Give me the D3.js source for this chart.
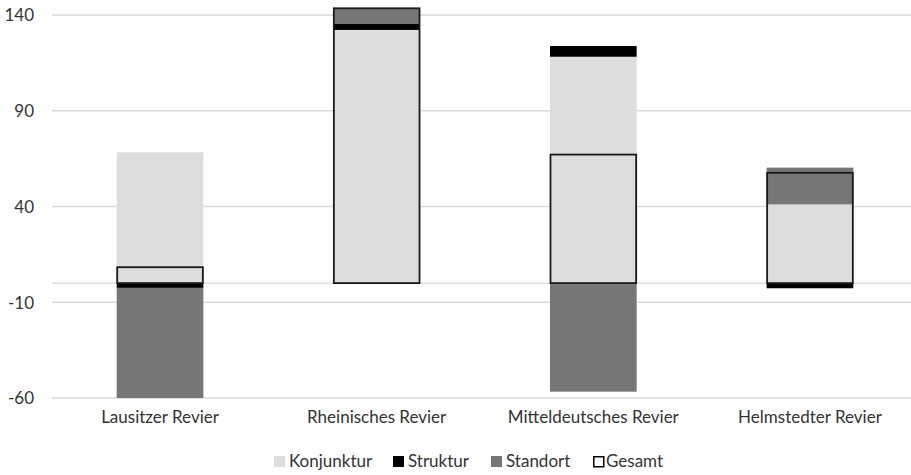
<!DOCTYPE html>
<html><head><meta charset="utf-8">
<script src="https://cdn.jsdelivr.net/npm/d3@7"></script>
<style>body{margin:0;background:#fff}svg{display:block}</style>
</head><body><svg id="c" width="911" height="475"></svg>
<script>
const categories = ["Lausitzer Revier","Rheinisches Revier","Mitteldeutsches Revier","Helmstedter Revier"];
const konjunktur = [68.3, 132.2, 118.2, 41.1];
const struktur   = [-2.5, 3.1, 5.6, -2.7];
const standort   = [-57.5, 8.2, -56.7, 19.2];
const gesamt     = [8.3, 143.5, 67.1, 57.6];
const yTicks = [140, 90, 40, -10, -60];
const seriesNames = ["Konjunktur","Struktur","Standort","Gesamt"];
const colors = {Konjunktur:"#dedddb", Struktur:"#000000", Standort:"#767676"};

const svg = d3.select("#c");
const font = "Lato, 'Open Sans', sans-serif";
const fs = 17;
const txt = "#333333";
const x = d3.scaleBand().domain(categories).range([51.7, 918.3]).paddingInner(0.6).paddingOuter(0.3);
const y = d3.scaleLinear().domain([-60, 140]).range([398, 15]);

// grid
svg.append("g").selectAll("line").data(yTicks).join("line")
  .attr("x1", 52).attr("x2", 911).attr("y1", d=>y(d)).attr("y2", d=>y(d))
  .attr("stroke", "#d9d9d9").attr("stroke-width", 1.3);
svg.append("line").attr("x1",52).attr("x2",911).attr("y1",y(0)).attr("y2",y(0))
  .attr("stroke","#d9d9d9").attr("stroke-width",1.3);

// y labels
const yAxis = d3.axisLeft(y).tickValues(yTicks).tickSize(0).tickPadding(0).tickFormat(d=>String(d));
const ga = svg.append("g").attr("transform","translate(34,0)").call(yAxis);
ga.select(".domain").remove();
ga.selectAll("text").attr("font-family",font).attr("font-size",fs).attr("fill",txt).attr("dy","0.35em");

// stacked bars (positive and negative stacking)
const rows = categories.map((c,i)=>({cat:c, Konjunktur:konjunktur[i], Struktur:struktur[i], Standort:standort[i]}));
const stack = d3.stack().keys(["Konjunktur","Struktur","Standort"]).offset(d3.stackOffsetDiverging);
const stacked = stack(rows);
const bw = x.bandwidth();
stacked.forEach(layer=>{
  svg.append("g").selectAll("rect").data(layer).join("rect")
    .attr("x", d=>x(d.data.cat)).attr("width", bw)
    .attr("y", d=>y(Math.max(d[0],d[1]))).attr("height", d=>Math.abs(y(d[0])-y(d[1])))
    .attr("fill", colors[layer.key]);
});
// gesamt outline
svg.append("g").selectAll("rect").data(categories).join("rect")
  .attr("x", d=>x(d)+0.5).attr("width", bw-1)
  .attr("y", (d,i)=>y(Math.max(0,gesamt[i]))).attr("height",(d,i)=>Math.abs(y(gesamt[i])-y(0)))
  .attr("fill","none").attr("stroke","#1a1a1a").attr("stroke-width",1.8);

// x labels
const xAxis = d3.axisBottom(x).tickSize(0).tickPadding(0);
const gx = svg.append("g").attr("transform","translate(0,411)").call(xAxis);
gx.select(".domain").remove();
gx.selectAll("text").attr("font-family",font).attr("font-size",fs).attr("fill",txt).attr("dy","0.71em");

// legend
const legX = [274, 393, 491, 593];
const lg = svg.append("g");
seriesNames.forEach((n,i)=>{
  const g = lg.append("g").attr("transform",`translate(${legX[i]},456)`);
  if(n==="Gesamt"){
    g.append("rect").attr("x",0.75).attr("y",0.75).attr("width",10).attr("height",10).attr("fill","#fff").attr("stroke","#000").attr("stroke-width",1.5);
  } else {
    g.append("rect").attr("width",11).attr("height",11).attr("fill",colors[n]);
  }
  g.append("text").attr("x", n==="Gesamt"?13:15).attr("y",5.5).attr("dy","0.35em")
    .attr("font-family",font).attr("font-size",fs).attr("fill",txt).text(n);
});
</script></body></html>
